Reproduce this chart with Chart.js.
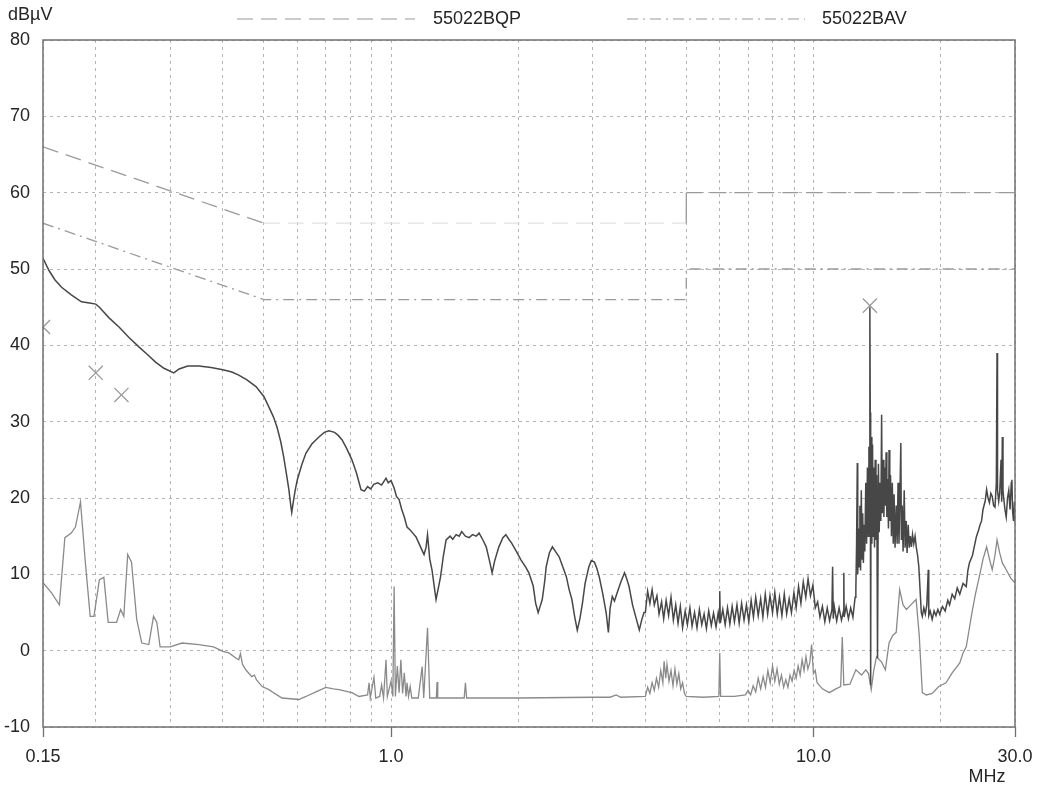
<!DOCTYPE html>
<html>
<head>
<meta charset="utf-8">
<script src="https://cdn.jsdelivr.net/npm/chart.js@4.4.1/dist/chart.umd.min.js"></script>
<style>
  html, body { margin: 0; padding: 0; background: #ffffff; }
  #wrap { width: 1043px; height: 787px; }
</style>
</head>
<body>
<div id="wrap"><canvas id="c" width="1043" height="787"></canvas></div>
<script>
// ---------- DATA ----------
const xTickValues = [0.15,0.2,0.3,0.4,0.5,0.6,0.7,0.8,0.9,1,2,3,4,5,6,7,8,9,10,20,30];
const xTickLabels = {0.15: '0.15', 1: '1.0', 10: '10.0', 30: '30.0'};
const yTickValues = [-10,0,10,20,30,40,50,60,70,80];

const seriesNames = ['55022BQP', '55022BAV'];

const qpLimitFreq  = [0.15, 0.5, 5, 5, 30];
const qpLimitLevel = [66, 56, 56, 60, 60];
const avLimitFreq  = [0.15, 0.5, 5, 5, 30];
const avLimitLevel = [56, 46, 46, 50, 50];

const markerFreq  = [0.15, 0.2, 0.23, 13.6];
const markerLevel = [42.4, 36.4, 33.5, 45.2];

const peakFreq = [
 0.150,0.155,0.160,0.166,0.175,0.185,0.195,0.200,0.204,0.215,0.227,0.240,0.253,0.265,0.277,0.290,0.306,0.315,0.330,0.351,
 0.375,0.400,0.420,0.436,0.455,0.479,0.500,0.514,0.527,0.537,0.548,0.557,0.566,0.573,0.579,0.582,0.587,0.593,0.600,0.615,
 0.629,0.650,0.675,0.695,0.713,0.735,0.750,0.766,0.785,0.808,0.828,0.849,0.865,0.880,0.895,0.910,0.930,0.950,0.973,0.985,
 1.000,1.017,1.030,1.045,1.060,1.075,1.091,1.110,1.130,1.146,1.170,1.197,1.210,1.220,1.235,1.250,1.265,1.278,1.290,1.310,
 1.330,1.350,1.380,1.400,1.426,1.450,1.470,1.500,1.530,1.560,1.590,1.616,1.650,1.680,1.710,1.735,1.760,1.800,1.840,1.870,
 1.900,1.930,1.980,2.030,2.080,2.120,2.170,2.200,2.230,2.260,2.280,2.310,2.330,2.370,2.410,2.450,2.500,2.550,2.600,2.640,
 2.680,2.720,2.760,2.800,2.840,2.880,2.940,2.980,3.030,3.070,3.110,3.170,3.230,3.270,3.300,3.340,3.380,3.430,3.500,3.570,
 3.610,3.660,3.730,3.810,3.870,3.920,3.970,
 4.00,4.05,4.10,4.15,4.20,4.26,4.31,4.37,4.42,4.48,
 4.54,4.60,4.66,4.72,4.78,4.84,4.90,4.97,5.03,5.10,
 5.16,5.23,5.30,5.37,5.44,5.51,5.58,5.65,5.73,5.80,
 5.88,5.95,5.99,6.00,6.02,6.10,6.18,6.26,6.34,6.42,
 6.50,6.59,6.67,6.76,6.85,6.94,7.03,7.12,7.21,7.30,
 7.40,7.50,7.59,7.69,7.79,7.89,8.00,8.10,8.21,8.31,
 8.42,8.53,8.64,8.76,8.87,8.99,9.10,9.22,9.34,9.46,
 9.59,9.71,9.84,9.97,10.10,10.23,10.36,10.50,10.64,10.78,
 10.92,11.06,11.10,11.14,11.20,11.35,11.50,11.65,11.78,11.80,
 11.82,11.95,12.10,12.25,12.40,12.55,12.60,12.65,12.70,12.73,
 12.78,12.83,12.88,12.93,12.98,13.03,13.08,13.13,13.18,13.23,
 13.30,13.36,13.42,13.48,13.53,13.57,13.60,13.63,13.66,13.69,
 13.75,13.80,13.85,13.90,13.95,14.00,14.06,14.12,14.18,14.25,
 14.31,14.38,14.44,14.50,14.55,14.62,14.68,14.74,14.80,14.86,
 14.92,14.98,15.05,15.10,15.16,15.22,15.30,15.37,15.45,15.52,
 15.60,15.70,15.78,15.86,15.94,16.02,16.10,16.15,16.22,16.30,
 16.40,16.48,16.58,16.66,16.76,16.86,16.96,17.06,17.16,17.28,
 17.40,17.52,17.64,17.76,17.88,18.00,18.10,18.25,18.40,18.55,
 18.70,18.75,18.90,19.10,19.30,19.50,19.70,19.90,20.20,20.50,
 20.80,21.00,21.30,21.60,21.90,22.20,22.60,23.00,23.20,23.40,
 23.80,24.00,24.30,24.60,24.80,25.00,25.20,25.50,25.70,25.90,
 26.10,26.30,26.50,26.70,26.90,27.10,27.20,27.25,27.30,27.45,
 27.60,27.80,27.90,28.00,28.10,28.20,28.40,28.60,28.80,29.00,
 29.20,29.40,29.50,29.60,29.75,29.90,30.00
];
const peakLevel = [
 51.4,49.8,48.6,47.6,46.6,45.7,45.5,45.4,45.0,43.6,42.4,41.0,39.8,38.8,37.8,37.0,36.4,36.9,37.3,37.3,
 37.1,36.8,36.5,36.1,35.5,34.6,33.3,31.9,30.6,29.3,27.4,25.4,23.0,21.1,19.0,18.1,19.5,21.0,22.4,24.4,
 25.9,27.1,28.0,28.6,28.8,28.6,28.2,27.6,26.5,25.0,23.3,21.1,20.9,21.5,21.2,21.8,22.0,21.7,22.6,22.0,
 22.3,21.3,20.2,19.8,18.5,17.5,16.2,15.8,15.3,14.9,13.8,12.6,13.5,15.2,12.0,10.6,8.5,6.7,7.8,9.7,
 12.4,14.5,15.0,14.6,15.2,15.0,15.6,15.0,14.8,15.2,15.0,15.4,14.5,13.6,11.8,10.2,11.8,13.6,14.8,15.2,
 14.6,14.1,13.0,11.9,11.0,10.2,8.5,6.2,5.0,6.0,6.7,9.0,11.0,12.8,13.6,13.0,12.3,11.0,9.7,8.0,
 6.7,4.5,2.7,4.2,6.3,8.8,11.0,11.8,11.6,10.8,9.7,7.5,5.0,2.4,5.5,7.1,6.5,7.6,9.0,10.2,
 9.5,8.4,6.0,4.1,2.7,4.0,5.0,
 5.0,7.8,6.2,8.0,6.0,7.2,4.8,6.4,4.2,6.6,
 4.6,7.0,4.0,6.0,3.6,5.8,3.0,5.2,3.4,5.6,
 3.2,5.0,3.0,5.4,3.4,4.8,2.9,5.2,3.3,4.9,
 3.1,5.0,3.8,7.8,3.6,5.4,3.4,5.6,3.5,5.8,
 3.8,6.0,3.6,6.2,4.0,6.0,3.8,6.6,4.4,7.0,
 4.6,6.8,4.4,7.4,4.8,7.2,5.0,7.6,4.8,7.0,
 4.6,7.4,4.8,6.8,5.0,7.6,5.6,8.4,6.2,9.0,
 7.0,9.4,7.2,8.6,5.6,6.4,4.4,5.8,3.8,5.6,
 3.9,5.4,11.0,4.2,5.8,3.9,5.6,4.0,5.2,10.2,
 4.4,5.8,4.2,5.6,4.4,7.0,8.0,14.0,24.6,10.0,
 16.0,11.0,19.0,10.5,21.0,12.0,18.0,11.5,16.5,13.0,
 22.0,14.0,24.0,15.0,26.7,20.0,45.0,31.2,-4.5,28.0,
 14.0,27.0,15.0,24.0,13.5,25.0,14.5,23.0,-1.0,24.5,
 15.5,22.0,17.0,30.9,18.0,25.0,17.5,24.0,19.0,26.0,
 17.5,22.5,16.0,26.3,17.0,23.0,15.0,22.0,14.0,20.5,
 13.5,19.0,14.0,22.0,14.0,20.0,27.2,14.5,19.0,13.0,
 21.0,13.5,17.0,12.8,16.5,13.5,15.0,13.6,15.2,14.0,
 15.0,13.5,12.5,11.0,8.0,5.0,4.5,5.6,4.8,6.0,
 10.6,4.6,5.2,4.1,5.2,4.6,5.4,4.8,5.8,5.2,
 6.6,6.0,7.4,6.8,8.2,7.4,8.8,8.4,10.5,11.5,
 12.5,13.5,14.9,15.8,16.5,17.0,18.5,19.6,21.1,20.0,
 19.4,20.6,20.2,19.0,18.8,22.0,39.0,30.0,21.0,19.6,
 20.7,25.0,19.5,28.0,21.0,20.0,18.5,17.5,20.0,21.0,
 18.5,22.0,22.4,18.5,17.0,19.5,16.8
];

const avgFreq = [
 0.150,0.157,0.164,0.169,0.175,0.179,0.184,0.189,0.194,0.198,
 0.204,0.209,0.214,0.224,0.229,0.233,0.238,0.243,0.250,0.257,
 0.267,0.274,0.279,0.284,0.300,0.320,0.351,0.380,0.400,0.413,
 0.430,0.436,0.440,0.445,0.453,0.468,0.475,0.480,0.495,0.514,
 0.530,0.552,0.605,0.629,0.664,0.701,0.730,0.753,0.808,0.840,
 0.880,0.887,0.893,0.911,0.920,0.940,0.950,0.960,0.973,0.980,
 1.000,1.010,1.017,1.024,1.035,1.045,1.055,1.065,1.075,1.085,
 1.091,1.100,1.110,1.120,1.160,1.185,1.195,1.220,1.235,1.280,
 1.285,1.290,1.490,1.500,1.510,2.000,3.000,3.300,3.410,3.500,
 4.00,4.05,4.10,4.15,4.20,4.25,4.30,4.35,4.40,4.43,
 4.47,4.50,4.55,4.60,4.65,4.70,4.75,4.80,4.85,4.90,
 4.95,5.00,5.50,5.97,6.00,6.03,6.50,6.90,7.00,7.10,
 7.20,7.30,7.40,7.50,7.60,7.70,7.80,7.90,8.00,8.10,
 8.20,8.30,8.40,8.50,8.60,8.70,8.80,8.90,9.00,9.10,
 9.20,9.30,9.40,9.50,9.60,9.70,9.80,9.90,10.00,10.10,
 10.20,10.50,10.90,11.30,11.60,11.70,11.80,12.20,12.60,13.00,
 13.30,13.50,13.70,13.90,14.10,14.50,14.80,15.10,15.40,15.70,
 16.00,16.30,16.60,17.00,17.50,17.80,18.00,18.10,18.50,19.10,
 19.80,20.60,21.30,22.20,22.60,23.00,23.40,23.80,24.20,24.70,
 25.20,25.70,26.10,26.50,26.90,27.20,27.60,28.00,28.60,29.30,
 30.00
];
const avgLevel = [
 8.9,7.6,6.0,14.8,15.4,16.2,19.5,11.5,4.5,4.5,
 9.3,9.6,3.7,3.7,5.4,4.5,12.6,11.6,4.1,1.0,
 0.8,4.5,3.7,0.5,0.5,1.0,0.8,0.5,-0.1,-0.3,
 -1.0,-1.2,-0.4,-1.8,-2.5,-3.4,-3.2,-3.8,-4.7,-5.1,
 -5.6,-6.2,-6.4,-6.0,-5.4,-4.8,-5.0,-5.1,-5.5,-6.0,
 -5.8,-4.2,-6.2,-3.5,-6.2,-6.0,-4.5,-6.2,-1.2,-6.0,
 -4.0,-6.0,8.4,-6.0,-2.0,-5.5,-1.2,-5.6,-2.9,-6.0,
 -4.2,-6.0,-4.7,-6.2,-6.2,-2.1,-6.2,3.0,-6.2,-6.2,
 -4.1,-6.2,-6.2,-4.2,-6.2,-6.2,-6.1,-6.1,-5.8,-6.1,
 -6.0,-4.8,-5.6,-4.2,-5.2,-3.6,-4.8,-2.6,-4.2,-1.4,
 -3.6,-1.8,-4.0,-2.6,-4.6,-2.4,-4.4,-3.0,-5.0,-4.2,
 -5.6,-6.0,-6.1,-6.0,-0.3,-6.0,-6.0,-5.8,-5.2,-5.8,
 -4.6,-5.4,-3.6,-5.0,-3.4,-4.8,-2.6,-4.2,-2.0,-4.0,
 -2.4,-4.4,-3.2,-4.8,-3.8,-4.8,-3.2,-4.0,-2.6,-3.6,
 -2.0,-3.2,-1.2,-2.6,-0.8,-2.4,-1.6,0.8,-3.0,-2.6,
 -4.2,-5.0,-5.5,-5.0,-4.7,1.8,-4.5,-4.4,-2.5,-3.2,
 -2.5,-3.0,-5.1,-2.5,-0.8,-1.5,-2.5,1.0,2.0,2.4,
 8.0,6.0,5.4,6.0,6.7,2.0,-3.0,-5.5,-5.8,-5.6,
 -4.7,-4.2,-2.9,-1.6,-0.3,0.5,3.0,5.4,7.5,9.7,
 12.0,13.6,12.0,10.6,12.5,14.5,12.8,11.5,10.6,9.5,
 8.9
];

// ---------- HELPERS ----------
const zip = (xs, ys) => xs.map((x, i) => ({x: x, y: ys[i]}));
const FONT = '"Liberation Sans", Arial, sans-serif';
const TEXT = '#252525';
const FSIZE = 18;

const qpDash = [16, 8];
const avDash = [11, 5, 2, 5];

const frame = {
  id: 'frame',
  afterDraw(chart) {
    const {ctx, chartArea: a} = chart;
    ctx.save();
    ctx.strokeStyle = '#707070';
    ctx.lineWidth = 1.5;
    ctx.setLineDash([]);
    ctx.strokeRect(a.left, a.top, a.right - a.left, a.bottom - a.top);
    // legend
    ctx.font = FSIZE + 'px ' + FONT;
    ctx.fillStyle = TEXT;
    ctx.textBaseline = 'middle';
    ctx.textAlign = 'left';
    const items = [
      {x0: 237, x1: 415, tx: 433, dash: qpDash, name: seriesNames[0]},
      {x0: 627, x1: 805, tx: 822, dash: avDash, name: seriesNames[1]}
    ];
    items.forEach(it => {
      ctx.save();
      ctx.strokeStyle = '#9a9a9a';
      ctx.lineWidth = 1.2;
      ctx.setLineDash(it.dash);
      ctx.beginPath();
      ctx.moveTo(it.x0, 19);
      ctx.lineTo(it.x1, 19);
      ctx.stroke();
      ctx.restore();
      ctx.fillText(it.name, it.tx, 19);
    });
    // unit labels
    ctx.fillText('dBµV', 8, 15);
    ctx.textAlign = 'center';
    ctx.fillText('MHz', 987, 777);
    ctx.restore();
  }
};

const chart = new Chart(document.getElementById('c'), {
  type: 'scatter',
  data: {
    datasets: [
      {
        label: 'markers',
        data: zip(markerFreq, markerLevel),
        showLine: false,
        pointStyle: 'crossRot',
        pointRadius: 10,
        pointBorderColor: '#9a9a9a',
        pointBorderWidth: 1.3,
        clip: 0
      },
      {
        label: 'peak',
        data: zip(peakFreq, peakLevel),
        showLine: true,
        borderColor: '#474747',
        borderWidth: 1.5,
        pointRadius: 0,
        tension: 0
      },
      {
        label: 'average',
        data: zip(avgFreq, avgLevel),
        showLine: true,
        borderColor: '#8a8a8a',
        borderWidth: 1.3,
        pointRadius: 0,
        tension: 0
      },
      {
        label: seriesNames[0],
        data: zip(qpLimitFreq, qpLimitLevel),
        showLine: true,
        borderColor: '#9a9a9a',
        borderWidth: 1.3,
        borderDash: qpDash,
        pointRadius: 0,
        segment: {
          borderColor: c => (c.p0.parsed.y === 56 && c.p1.parsed.y === 56) ? '#e2e2e2' : undefined,
          borderDash: c => (c.p0.parsed.x === 5 && c.p1.parsed.x === 5) ? [] : undefined
        }
      },
      {
        label: seriesNames[1],
        data: zip(avLimitFreq, avLimitLevel),
        showLine: true,
        borderColor: '#9a9a9a',
        borderWidth: 1.3,
        borderDash: avDash,
        pointRadius: 0
      }
    ]
  },
  options: {
    responsive: false,
    animation: false,
    events: [],
    layout: { padding: { top: 40, right: 28, bottom: 0, left: 0 } },
    plugins: {
      legend: { display: false },
      tooltip: { enabled: false },
      title: { display: false }
    },
    scales: {
      x: {
        type: 'logarithmic',
        min: 0.15,
        max: 30,
        afterBuildTicks: s => { s.ticks = xTickValues.map(v => ({value: v})); },
        afterFit: s => { s.height = 60; },
        ticks: {
          autoSkip: false,
          maxRotation: 0,
          padding: 9,
          color: TEXT,
          font: { family: FONT, size: FSIZE },
          callback: v => xTickLabels[v] !== undefined ? xTickLabels[v] : ''
        },
        grid: {
          color: '#b4b4b4',
          lineWidth: 1,
          drawTicks: true,
          tickLength: 10,
          tickWidth: 1.3,
          tickColor: c => (c.tick && xTickLabels[c.tick.value] !== undefined) ? '#707070' : 'rgba(0,0,0,0)'
        },
        border: { display: false, dash: [3, 4] }
      },
      y: {
        type: 'linear',
        min: -10,
        max: 80,
        afterBuildTicks: s => { s.ticks = yTickValues.map(v => ({value: v})); },
        afterFit: s => { s.width = 43; },
        ticks: {
          padding: 13,
          color: TEXT,
          font: { family: FONT, size: FSIZE }
        },
        grid: {
          color: '#b4b4b4',
          lineWidth: 1,
          drawTicks: false
        },
        border: { display: false, dash: [3, 4] }
      }
    }
  },
  plugins: [frame]
});
</script>
</body>
</html>
